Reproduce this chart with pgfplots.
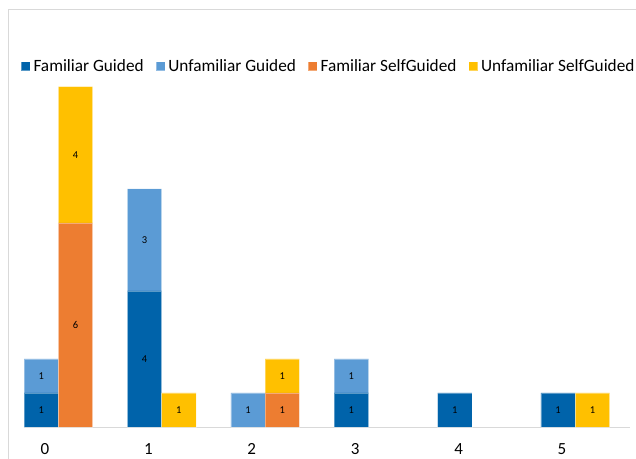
\documentclass[border=0pt]{standalone}
\usepackage{fontspec}
\setmainfont{Carlito}
\usepackage{pgfplots}
\pgfplotsset{compat=1.18}
\definecolor{famg}{RGB}{0,99,170}
\definecolor{unfg}{RGB}{91,155,213}
\definecolor{fams}{RGB}{237,125,49}
\definecolor{unfs}{RGB}{255,192,0}
\definecolor{framegray}{RGB}{217,217,217}

\pgfplotsset{
  base/.style={
    at={(24pt,31pt)}, anchor=south west,
    scale only axis, width=606pt, height=347.1pt,
    xmin=-0.332, xmax=5.529, ymin=0, ymax=10.2,
    ybar stacked, bar width=34.3pt,
    hide y axis,
    xtick=\empty,
    point meta=explicit symbolic,
    nodes near coords={\pgfplotspointmeta},
    every node near coord/.append style={font=\fontsize{10.5}{10.5}\selectfont, text=black},
    clip=false,
  },
  seg/.style={fill=#1, draw=white, draw opacity=0.35, line width=0.6pt},
}

\begin{document}
\begin{tikzpicture}
\path[use as bounding box] (0,0) rectangle (636pt,458pt);
\draw[framegray, line width=1pt] (8.5pt,-2pt) -- (8.5pt,448.5pt) -- (640pt,448.5pt);

% Guided bars
\begin{axis}[base,
  axis x line*=bottom,
  axis line style={draw=framegray, line width=0.8pt},
  xtick={-0.129,0.871,1.871,2.871,3.871,4.871},
  xticklabels={0,1,2,3,4,5},
  tick style={draw=none},
  xticklabel style={font=\fontsize{17}{17}\selectfont, inner sep=0pt, anchor=north, yshift=-16.5pt},
]
\addplot[seg=famg] coordinates {(-0.166,1)[1] (0.834,4)[4] (1.834,0)[\relax] (2.834,1)[1] (3.834,1)[1] (4.834,1)[1]};
\addplot[seg=unfg] coordinates {(-0.166,1)[1] (0.834,3)[3] (1.834,1)[1] (2.834,1)[1] (3.834,0)[\relax] (4.834,0)[\relax]};
\end{axis}

% SelfGuided bars
\begin{axis}[base,
  hide x axis,
  legend columns=4,
  legend image code/.code={\fill[#1] (0pt,-4.5pt) rectangle (9pt,4.5pt);},
  legend style={draw=none, fill=none, inner sep=0pt, anchor=west,
    at={(axis description cs:-0.0054,1.04)},
    font=\fontsize{17.25}{17.25}\selectfont,
    nodes={inner xsep=3pt, inner ysep=0pt},
    /tikz/every even column/.append style={column sep=9pt}},
]
\addlegendimage{seg=famg}
\addlegendentry{Familiar Guided}
\addlegendimage{seg=unfg}
\addlegendentry{Unfamiliar Guided}
\addplot[seg=fams] coordinates {(0.166,6)[6] (1.166,0)[\relax] (2.166,1)[1] (3.166,0)[\relax] (4.166,0)[\relax] (5.166,0)[\relax]};
\addlegendentry{Familiar SelfGuided}
\addplot[seg=unfs] coordinates {(0.166,4)[4] (1.166,1)[1] (2.166,1)[1] (3.166,0)[\relax] (4.166,0)[\relax] (5.166,1)[1]};
\addlegendentry{Unfamiliar SelfGuided}
\end{axis}
\end{tikzpicture}
\end{document}
